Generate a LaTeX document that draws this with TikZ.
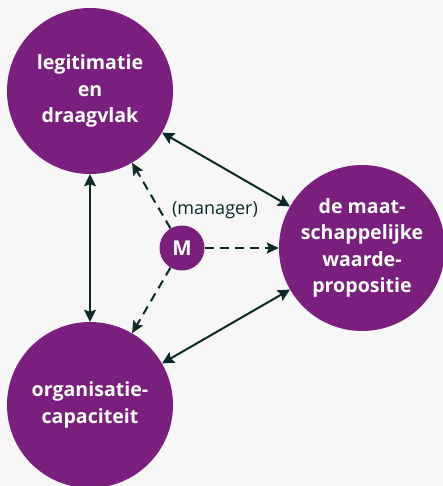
\documentclass[tikz,border=0pt]{standalone}
\usepackage{fontspec}
\setmainfont{Open Sans}
\usetikzlibrary{arrows.meta}
\definecolor{paars}{HTML}{7A1F7D}
\definecolor{donker}{HTML}{0D2A2A}
\definecolor{achter}{HTML}{F7F7F7}
\tikzset{
  bol/.style={circle, fill=paars, draw=none, minimum size=166pt, inner sep=0pt, text=white, align=center, font=\fontsize{19.6}{26.3}\selectfont\bfseries},
  klein/.style={circle, fill=paars, draw=none, minimum size=45pt, inner sep=0pt, text=white, font=\fontsize{20.5}{22}\selectfont\bfseries},
  pijl/.style={{Stealth[length=12pt,width=12pt,inset=2pt]}-{Stealth[length=12pt,width=12pt,inset=2pt]}, line width=2pt, draw=donker},
  stippel/.style={-{Stealth[length=12pt,width=11pt,inset=2pt]}, line width=2pt, draw=donker, dash pattern=on 9pt off 6pt}
}
\begin{document}
\begin{tikzpicture}[x=1pt,y=-1pt]
\useasboundingbox (0,0) rectangle (443,486);
\fill[achter] (0,0) rectangle (443,486);
\node[bol] (tl) at (90,91) {legitimatie\\en\\draagvlak};
\node[bol] (re) at (362,248) {de maat-\\schappelijke\\waarde-\\propositie};
\node[bol] (bl) at (90,405) {organisatie-\\capaciteit};
\node[klein] (m) at (182,248) {M};
\node[text=donker, font=\fontsize{18}{20}\selectfont] (lab) at (215,210) {(manager)};
\draw[pijl] (tl) -- (bl);
\draw[pijl] (tl) -- (re);
\draw[pijl] (bl) -- (re);
\draw[stippel] (m) -- (tl);
\draw[stippel] (m) -- (re);
\draw[stippel] (m) -- (bl);
\end{tikzpicture}
\end{document}
